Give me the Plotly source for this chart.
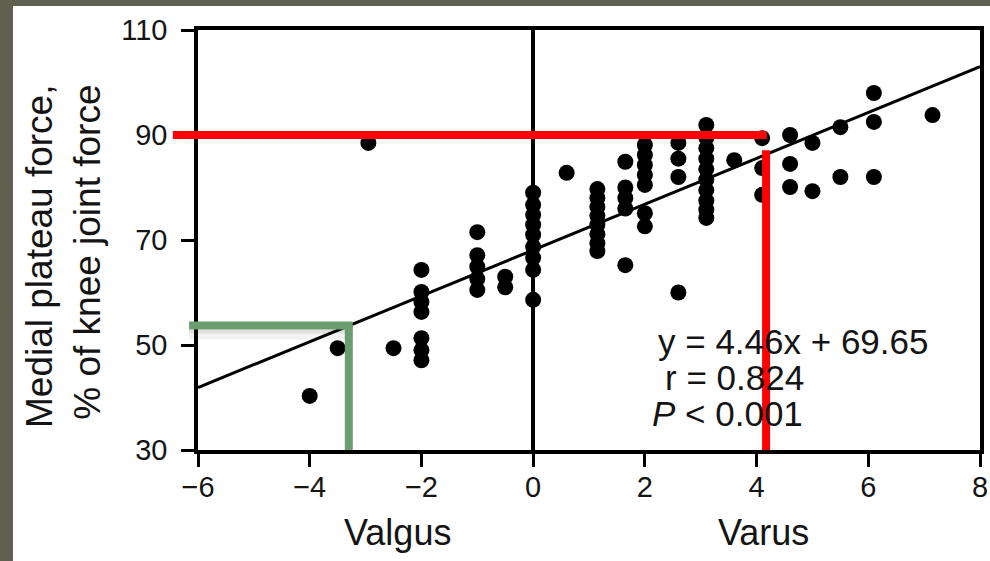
import plotly.graph_objects as go

# ---------------- data ----------------
dot_x = [-4.0, -3.5, -2.95, -2.5,
         -2, -2, -2, -2, -2, -2, -2,
         -1, -1, -1, -1, -1,
         -0.5, -0.5,
         0, 0, 0, 0, 0, 0, 0, 0, 0,
         0.6,
         1.15, 1.15, 1.15, 1.15, 1.15, 1.15, 1.15, 1.15,
         1.65, 1.65, 1.65, 1.65, 1.65,
         2, 2, 2, 2, 2, 2, 2,
         2.6, 2.6, 2.6, 2.6,
         3.1, 3.1, 3.1, 3.1, 3.1, 3.1, 3.1, 3.1, 3.1, 3.1,
         3.6,
         4.1, 4.1, 4.1,
         4.6, 4.6, 4.6,
         5.0, 5.0,
         5.5, 5.5,
         6.1, 6.1, 6.1,
         7.15]
dot_y = [40.3, 49.4, 88.5, 49.4,
         64.3, 60.1, 58.2, 56.3, 51.3, 49.0, 47.1,
         71.5, 67.1, 64.9, 62.6, 60.5,
         63.0, 61.0,
         79.0, 76.7, 74.8, 72.9, 71.0, 68.7, 66.6, 64.3, 58.6,
         82.8,
         79.7, 78.0, 76.3, 74.6, 72.9, 71.1, 69.4, 67.9,
         84.9, 80.0, 78.0, 76.0, 65.2,
         88.1, 86.2, 84.3, 82.4, 80.5, 75.1, 72.6,
         88.5, 85.5, 82.0, 60.0,
         91.9, 89.5, 87.5, 85.5, 83.5, 81.5, 79.5, 77.5, 75.8, 74.2,
         85.2,
         89.4, 83.7, 78.6,
         90.0, 84.5, 80.1,
         88.5, 79.3,
         91.5, 82.0,
         98.0, 92.5, 82.0,
         93.8]

fit_x = [-6, 8]
fit_y = [41.9, 103.0]

x_ticks = [-6, -4, -2, 0, 2, 4, 6, 8]
y_ticks = [30, 50, 70, 90, 110]

eq_lines = ["y = 4.46x + 69.65", "r = 0.824", "<i>P</i> &lt; 0.001"]
y_title = "Medial plateau force,<br>% of knee joint force"
x_side_labels = ["Valgus", "Varus"]

# highlight guide lines (data units)
red_y, red_x, red_x_top, red_left = 90.0, 4.17, 87.1, -6.45
green_y, green_x, green_left = 53.7, -3.30, -6.16

# ---------------- layout geometry ----------------
W, H = 990, 561
ML, MR, MT, MB = 198, 10, 30, 111
PW, PH = W - ML - MR, H - MT - MB
XR, YR = [-6, 8], [30, 110]


def pxx(px):
    return (px - ML) / PW


def pxy(py):
    return 1 - (py - MT) / PH


def dx2paper(v):
    return (v - XR[0]) / (XR[1] - XR[0])


FONT = "Liberation Sans, Arial, Helvetica, sans-serif"
TXT = "#141414"
BG = "#5f604f"
RED = "#ff0000"
GREEN = "#6b9e6f"

fig = go.Figure()
fig.add_trace(go.Scatter(x=fit_x, y=fit_y, mode="lines",
                         line=dict(color="black", width=3), hoverinfo="skip"))
fig.add_trace(go.Scatter(x=dot_x, y=dot_y, mode="markers",
                         marker=dict(color="black", size=16, line=dict(width=0))))

shapes = []
# white page panel
shapes.append(dict(type="rect", xref="paper", yref="paper",
                   x0=pxx(13), x1=pxx(1000), y0=pxy(6), y1=pxy(580),
                   fillcolor="white", line=dict(width=0), layer="below"))
# green shadow (soft)
shapes.append(dict(type="rect", xref="paper", yref="y",
                   x0=dx2paper(green_left), x1=dx2paper(green_x) - 0.004,
                   y0=green_y - 8 / 5.25, y1=green_y - 4 / 5.25,
                   fillcolor="rgba(0,0,0,0.12)", line=dict(width=0)))
shapes.append(dict(type="rect", xref="paper", yref="y",
                   x0=dx2paper(green_left), x1=dx2paper(green_x) - 0.004,
                   y0=green_y - 14 / 5.25, y1=green_y - 8 / 5.25,
                   fillcolor="rgba(0,0,0,0.05)", line=dict(width=0)))
# red guides
shapes.append(dict(type="line", xref="paper", yref="y",
                   x0=dx2paper(red_left), x1=dx2paper(red_x) + 0.001, y0=red_y, y1=red_y,
                   line=dict(color=RED, width=8)))
shapes.append(dict(type="line", xref="x", yref="y",
                   x0=red_x, x1=red_x, y0=red_x_top, y1=YR[0],
                   line=dict(color=RED, width=8)))
# green guides
shapes.append(dict(type="line", xref="paper", yref="y",
                   x0=dx2paper(green_left), x1=dx2paper(green_x) + 0.005, y0=green_y, y1=green_y,
                   line=dict(color=GREEN, width=8)))
shapes.append(dict(type="line", xref="x", yref="y",
                   x0=green_x, x1=green_x, y0=green_y, y1=YR[0],
                   line=dict(color=GREEN, width=8)))

annotations = []
eq_pos = [(656, 341), (663, 377), (650, 413)]
for t, (px, py) in zip(eq_lines, eq_pos):
    annotations.append(dict(text=t, xref="paper", yref="paper", x=pxx(px), y=pxy(py),
                            xanchor="left", yanchor="middle", showarrow=False,
                            font=dict(family=FONT, size=35, color=TXT)))
for t, px in zip(x_side_labels, [397, 763]):
    annotations.append(dict(text=t, xref="paper", yref="paper", x=pxx(px), y=pxy(532),
                            xanchor="center", yanchor="middle", showarrow=False,
                            font=dict(family=FONT, size=36, color=TXT)))
annotations.append(dict(text=y_title, xref="paper", yref="paper", x=pxx(63), y=pxy(257),
                        xanchor="center", yanchor="middle", showarrow=False, textangle=-90,
                        align="right", font=dict(family=FONT, size=37, color=TXT)))

axis_common = dict(showgrid=False, showline=True, linecolor="black", linewidth=3.5,
                   mirror=True, ticks="outside", ticklen=13, tickwidth=3, tickcolor="black",
                   automargin=False,
                   tickfont=dict(family=FONT, size=29, color=TXT))

fig.update_layout(
    width=W, height=H,
    margin=dict(l=ML, r=MR, t=MT, b=MB, pad=0, autoexpand=False),
    paper_bgcolor=BG, plot_bgcolor="white",
    showlegend=False,
    shapes=shapes, annotations=annotations,
    xaxis=dict(range=XR, tickvals=x_ticks, zeroline=True, zerolinecolor="black",
               zerolinewidth=3.5, ticklabelstandoff=-5, **axis_common),
    yaxis=dict(range=YR, tickvals=y_ticks, zeroline=False, ticklabelstandoff=8,
               **axis_common),
)

fig.write_html("out.html")
